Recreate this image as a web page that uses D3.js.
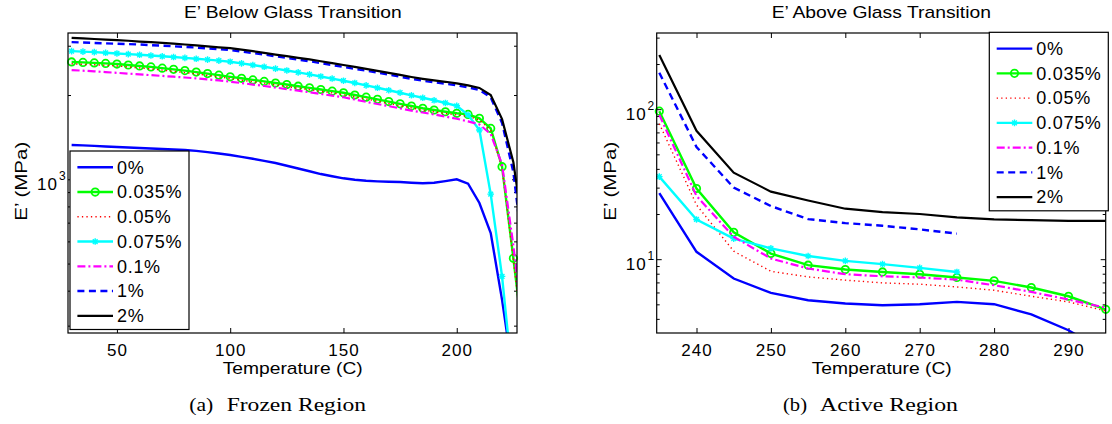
<!DOCTYPE html>
<meta charset="utf-8">
<style>
  body { margin: 0; background: #fff; }
  text {
    font-family: "Liberation Sans", Arial, Helvetica, sans-serif;
    font-size: 17px;
    letter-spacing: 1px;
    fill: #000;
  }
  text.stretch { letter-spacing: 0; }
  text.caption { font-family: "Liberation Serif", "Times New Roman", serif; font-size: 19px; letter-spacing: 0; }
  .legend text { font-size: 18px; letter-spacing: 0.7px; }
  .tick line { stroke: #000; stroke-width: 1; }
  .frame { fill: none; stroke: #000; stroke-width: 1.2; }
  .legend rect { fill: #fff; stroke: #000; stroke-width: 1.2; }
</style>
<svg width="1112" height="424"></svg>
<script src="https://d3js.org/d3.v7.min.js"></script>
<script>

  // ---- series definitions (same order in both panels) ----
  var seriesNames = ["0%", "0.035%", "0.05%", "0.075%", "0.1%", "1%", "2%"];
  var seriesColors = ["#0000ff", "#00ff00", "#ff0000", "#00ffff", "#ff00ff", "#0000ff", "#000000"];
  var seriesDash = [null, null, "1.3,3.2", null, "8,3,2,3", "7,4.5", null];
  var seriesWidth = [2.4, 2.4, 1.4, 2.4, 2.2, 2.4, 2.2];
  var seriesMarker = [null, "circle", null, "star", null, null, null];

  // ---- (a) frozen region, E' in MPa ----
  var frozenTemps = [30, 35, 40, 45, 50, 55, 60, 65, 70, 75, 80, 85, 90, 95, 100,
    105, 110, 115, 120, 125, 130, 135, 140, 145, 150,
    155, 160, 165, 170, 175, 180, 185, 190, 195, 200,
    205, 210, 215, 220, 225, 230];
  var frozen0 = [1326, 1322, 1316, 1310, 1304, 1299, 1293, 1288, 1283, 1278, 1273, 1263, 1250, 1236, 1221,
    1203, 1184, 1163, 1143, 1118, 1093, 1068, 1044, 1025, 1008,
    996, 988, 983, 980, 978, 972, 968, 972, 985, 1000,
    965, 823, 643, 371, 197, 100];
  var frozen0035 = [2625, 2615, 2605, 2594, 2580, 2560, 2540, 2520, 2495, 2470, 2445, 2415, 2385, 2355, 2323,
    2295, 2265, 2237, 2208, 2180, 2150, 2122, 2093, 2065, 2037,
    2000, 1965, 1930, 1895, 1860, 1827, 1794, 1768, 1743, 1721,
    1705, 1651, 1520, 1109, 522, 240];
  var frozen005 = [2585, 2575, 2565, 2555, 2540, 2520, 2500, 2480, 2455, 2430, 2405, 2380, 2350, 2320, 2290,
    2260, 2230, 2205, 2175, 2145, 2118, 2090, 2062, 2035, 2005,
    1970, 1935, 1900, 1865, 1832, 1800, 1768, 1742, 1718, 1697,
    1680, 1628, 1500, 1095, 515, 235];
  var frozen0075 = [2870, 2858, 2845, 2830, 2815, 2800, 2785, 2768, 2750, 2733, 2715, 2695, 2675, 2653, 2630,
    2595, 2560, 2523, 2485, 2448, 2410, 2370, 2330, 2290, 2250,
    2208, 2165, 2123, 2080, 2038, 1995, 1955, 1915, 1873, 1830,
    1700, 1500, 885, 450, 180, 100];
  var frozen01 = [2455, 2443, 2430, 2415, 2400, 2385, 2370, 2355, 2340, 2325, 2310, 2293, 2275, 2255, 2232,
    2207, 2180, 2154, 2127, 2100, 2073, 2045, 2018, 1990, 1963,
    1927, 1890, 1857, 1825, 1792, 1760, 1732, 1705, 1675, 1645,
    1610, 1570, 1450, 1130, 580, 260];
  var frozen1 = [3090, 3080, 3070, 3060, 3050, 3040, 3030, 3015, 3000, 2985, 2970, 2955, 2935, 2915, 2895,
    2860, 2825, 2790, 2750, 2715, 2675, 2640, 2600, 2560, 2520,
    2480, 2445, 2405, 2365, 2325, 2285, 2250, 2220, 2195, 2165,
    2130, 2085, 1960, 1590, 1060, 490];
  var frozen2 = [3200, 3185, 3170, 3155, 3140, 3125, 3105, 3090, 3070, 3050, 3030, 3010, 2985, 2960, 2940,
    2905, 2870, 2830, 2790, 2755, 2715, 2680, 2640, 2600, 2560,
    2520, 2480, 2440, 2400, 2360, 2320, 2285, 2255, 2230, 2200,
    2165, 2120, 2000, 1640, 1150, 600];

  // ---- (b) active region, E' in MPa ----
  var activeTemps = [235, 240, 245, 250, 255, 260, 265, 270, 275, 280, 285, 290, 295];
  var active0 = [27.6, 11.2, 7.43, 5.96, 5.32, 5.06, 4.93, 5.01, 5.19, 5.01, 4.29, 3.36, 2.4];
  var active0035 = [97, 29.6, 15.1, 10.9, 9.12, 8.53, 8.22, 7.94, 7.55, 7.17, 6.47, 5.66, 4.63];
  var active005 = [80, 23, 11.3, 8.3, 7.62, 7.25, 6.95, 6.81, 6.53, 6.21, 5.66, 5.19, 4.52];
  var active0075 = [35.5, 18.4, 13.7, 11.8, 10.5, 9.75, 9.27, 8.75, 8.22];
  var active01 = [91.6, 26.4, 14.1, 10.1, 8.67, 7.94, 7.69, 7.55, 7.3, 6.7, 6.05, 5.38, 4.75];
  var active1 = [175, 56, 30, 22.6, 18.5, 17.4, 16.7, 15.8, 14.8];
  var active2 = [230, 71.7, 37.7, 28.2, 24.6, 21.7, 20.6, 20.0, 19.0, 18.4, 18.2, 18.0, 18.0];

  // ---- ticks and text ----
  var frozenXTicks = [50, 100, 150, 200];
  var frozenYMajor = [1000];
  var frozenYMinor = [300, 400, 500, 600, 700, 800, 900, 2000, 3000];
  var activeXTicks = [240, 250, 260, 270, 280, 290];
  var activeYMajor = [10, 100];
  var activeYMinor = [4, 5, 6, 7, 8, 9, 20, 30, 40, 50, 60, 70, 80, 90, 200, 300];
  var titles = ["E\u2019 Below Glass Transition", "E\u2019 Above Glass Transition"];
  var xLabel = "Temperature (C)";
  var yLabel = "E\u2019 (MPa)";
  var captionTags = ["(a)", "(b)"];
  var captionNames = ["Frozen Region", "Active Region"];

  var svg = d3.select("svg");

  function starPath(r) {
    var d = r * 0.72;
    return "M" + (-r) + ",0H" + r + "M0," + (-r) + "V" + r +
      "M" + (-d) + "," + (-d) + "L" + d + "," + d +
      "M" + (-d) + "," + d + "L" + d + "," + (-d);
  }

  function addMarker(g, type, cx, cy, color) {
    if (type == "circle") {
      g.append("circle").attr("cx", cx).attr("cy", cy).attr("r", 3.7)
        .style("fill", "none").style("stroke", color).style("stroke-width", 1.8);
    } else if (type == "star") {
      g.append("path").attr("d", starPath(3.3))
        .attr("transform", "translate(" + cx + "," + cy + ")")
        .style("fill", "none").style("stroke", color).style("stroke-width", 1.4);
    }
  }

  function drawPanel(p) {
    var x = d3.scaleLinear().domain(p.xDomain).range([p.left, p.right]);
    var y = d3.scaleLog().domain(p.yDomain).range([p.bottom, p.top]);

    svg.append("clipPath").attr("id", "clip" + p.id)
      .append("rect")
      .attr("x", p.left).attr("y", p.top)
      .attr("width", p.right - p.left).attr("height", p.bottom - p.top);

    var g = svg.append("g");

    // inward ticks on all four sides
    var ax = g.append("g").attr("transform", "translate(0," + p.bottom + ")")
      .call(d3.axisBottom(x).tickValues(p.xTicks).tickSize(-5).tickSizeOuter(0)
        .tickPadding(10.6).tickFormat(d3.format("d")));
    ax.select(".domain").remove();
    g.append("g").attr("transform", "translate(0," + p.top + ")")
      .call(d3.axisTop(x).tickValues(p.xTicks).tickSize(-5).tickSizeOuter(0).tickFormat(""))
      .select(".domain").remove();

    [[p.left, d3.axisLeft], [p.right, d3.axisRight]].forEach(function (side) {
      g.append("g").attr("transform", "translate(" + side[0] + ",0)")
        .call(side[1](y).tickValues(p.yMinor).tickSize(-3).tickSizeOuter(0).tickFormat(""))
        .select(".domain").remove();
      g.append("g").attr("transform", "translate(" + side[0] + ",0)")
        .call(side[1](y).tickValues(p.yMajor).tickSize(-5).tickSizeOuter(0).tickFormat(""))
        .select(".domain").remove();
    });

    // 10^n labels
    p.yMajor.forEach(function (v) {
      var t = g.append("text")
        .attr("x", p.left - 31)
        .attr("y", y(v) + 10.7);
      t.append("tspan").text("10");
      t.append("tspan").attr("dy", -10).attr("dx", 1)
        .style("font-size", "12px")
        .text(Math.round(Math.log10(v)));
    });

    // lines
    var line = d3.line()
      .x(function (d) { return x(d[0]); })
      .y(function (d) { return y(d[1]); });

    var plot = g.append("g");
    p.series.forEach(function (vals, i) {
      var pts = vals.map(function (v, k) { return [p.temps[k], v]; });
      var path = plot.append("path").datum(pts)
        .attr("d", line)
        .attr("clip-path", "url(#clip" + p.id + ")")
        .style("fill", "none")
        .style("stroke", seriesColors[i])
        .style("stroke-width", seriesWidth[i]);
      if (seriesDash[i]) path.style("stroke-dasharray", seriesDash[i]);

      if (seriesMarker[i]) {
        pts.filter(function (d) {
          return d[0] >= p.xDomain[0] && d[0] <= p.xDomain[1] &&
            d[1] >= p.yDomain[0] && d[1] <= p.yDomain[1];
        }).forEach(function (d) {
          addMarker(plot, seriesMarker[i], x(d[0]), y(d[1]), seriesColors[i]);
        });
      }
    });

    // axes box
    g.append("rect").attr("class", "frame")
      .attr("x", p.left).attr("y", p.top)
      .attr("width", p.right - p.left).attr("height", p.bottom - p.top);

    // title, axis labels, caption
    g.append("text").attr("class", "stretch")
      .attr("x", p.titleX).attr("y", 18.3)
      .attr("textLength", p.titleLen).attr("lengthAdjust", "spacingAndGlyphs")
      .text(p.title);
    g.append("text").attr("class", "stretch")
      .attr("x", p.xLabelX).attr("y", 374)
      .attr("textLength", 140).attr("lengthAdjust", "spacingAndGlyphs")
      .text(xLabel);
    g.append("text").attr("class", "stretch")
      .attr("transform", "translate(" + (p.left - 40.7) + ",220.7) rotate(-90)")
      .attr("textLength", 79).attr("lengthAdjust", "spacingAndGlyphs")
      .text(yLabel);
    g.append("text").attr("class", "caption")
      .attr("x", p.capX).attr("y", 410.5)
      .attr("textLength", 24).attr("lengthAdjust", "spacingAndGlyphs")
      .text(p.capTag);
    g.append("text").attr("class", "caption")
      .attr("x", p.capNameX).attr("y", 410.5)
      .attr("textLength", p.capNameLen).attr("lengthAdjust", "spacingAndGlyphs")
      .text(p.capName);

    // legend
    var lg = g.append("g").attr("class", "legend")
      .attr("transform", "translate(" + p.legX + "," + p.legY + ")");
    lg.append("rect").attr("width", 119).attr("height", 178.5);
    seriesNames.forEach(function (name, i) {
      var cy = 16.3 + i * 24.75;
      var l = lg.append("line")
        .attr("x1", 7.4).attr("x2", 43).attr("y1", cy).attr("y2", cy)
        .style("stroke", seriesColors[i])
        .style("stroke-width", seriesWidth[i]);
      if (seriesDash[i]) l.style("stroke-dasharray", seriesDash[i]);
      if (seriesMarker[i]) addMarker(lg, seriesMarker[i], 25.2, cy, seriesColors[i]);
      lg.append("text").attr("x", 47).attr("y", cy + 6.3).text(name);
    });
  }

  drawPanel({
    id: "a",
    left: 68, right: 517, top: 33, bottom: 333,
    xDomain: [28.4, 226.6], yDomain: [282.4, 3331],
    xTicks: frozenXTicks, yMajor: frozenYMajor, yMinor: frozenYMinor,
    temps: frozenTemps,
    series: [frozen0, frozen0035, frozen005, frozen0075, frozen01, frozen1, frozen2],
    title: titles[0], titleX: 184, titleLen: 217.7,
    xLabelX: 222.7,
    capTag: captionTags[0], capX: 189.3,
    capName: captionNames[0], capNameX: 226.7, capNameLen: 139.3,
    legX: 70, legY: 151
  });

  drawPanel({
    id: "b",
    left: 656.7, right: 1105.7, top: 33, bottom: 333,
    xDomain: [234.65, 295], yDomain: [3.22, 322],
    xTicks: activeXTicks, yMajor: activeYMajor, yMinor: activeYMinor,
    temps: activeTemps,
    series: [active0, active0035, active005, active0075, active01, active1, active2],
    title: titles[1], titleX: 771.7, titleLen: 219.3,
    xLabelX: 811.7,
    capTag: captionTags[1], capX: 783,
    capName: captionNames[1], capNameX: 820, capNameLen: 138,
    legX: 989.3, legY: 32.3
  });

</script>
